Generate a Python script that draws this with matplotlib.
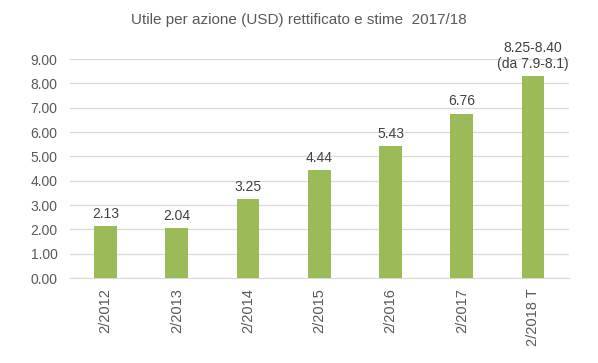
import matplotlib
matplotlib.use("Agg")
import matplotlib.pyplot as plt

# Dati
anni = ['2/2012', '2/2013', '2/2014', '2/2015', '2/2016', '2/2017', '2/2018 T']
utile = [2.13, 2.04, 3.25, 4.44, 5.43, 6.76, 8.3]
etichette = ['2.13', '2.04', '3.25', '4.44', '5.43', '6.76', '8.25-8.40\n(da 7.9-8.1)']

plt.rcParams['font.family'] = ['Liberation Sans', 'DejaVu Sans']

fig = plt.figure(figsize=(5.98, 3.63), dpi=100)
ax = fig.add_axes([0.117, 0.234, 0.834, 0.603])

x = range(len(anni))
ax.bar(x, utile, width=0.32, color='#9BBB59', zorder=3)

for i, (v, t) in enumerate(zip(utile, etichette)):
    ax.text(i, v + 0.22, t, ha='center', va='bottom', fontsize=10,
            color='#404040', linespacing=1.15)

ax.set_xlim(-0.5, len(anni) - 0.5)
ax.set_ylim(0, 9)
ax.set_yticks(range(0, 10))
ax.set_yticklabels([f'{v:.2f}' for v in range(0, 10)], fontsize=10, color='#595959')
ax.set_xticks(list(x))
ax.set_xticklabels(anni, rotation=90, fontsize=10.5, color='#595959')

ax.grid(axis='y', color='#d9d9d9', linewidth=0.9, zorder=0)
for s in ['top', 'right', 'left']:
    ax.spines[s].set_visible(False)
ax.spines['bottom'].set_color('#d9d9d9')
ax.tick_params(length=0, pad=7)
ax.tick_params(axis='y', pad=9)

fig.text(0.5, 0.945, 'Utile per azione (USD) rettificato e stime  2017/18',
         ha='center', va='center', fontsize=11, color='#595959')

plt.savefig('out.png', dpi=100)
